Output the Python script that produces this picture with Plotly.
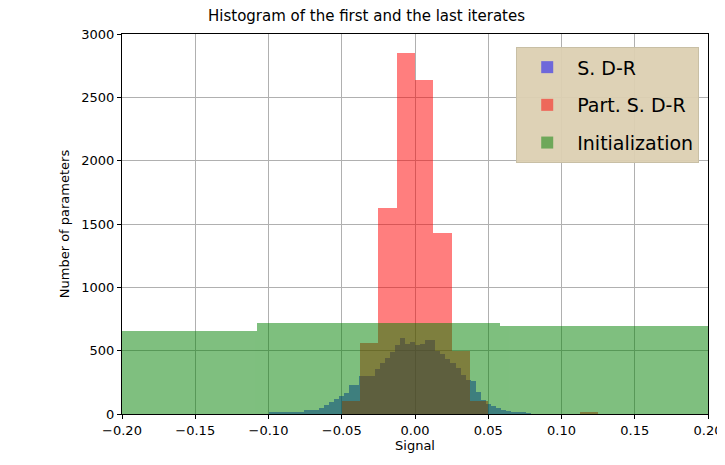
import numpy as np
import plotly.graph_objects as go

# S. D-R: fine bins
blue_start = -0.1
blue_width = 0.00345
blue_counts = [10, 10, 12, 12, 13, 13, 15, 30, 32, 32, 50, 68, 95, 122, 140, 162,
               230, 230, 298, 298, 298, 352, 406, 446, 487, 541, 600, 555, 568, 541,
               555, 581, 581, 500, 473, 433, 406, 365, 311, 270, 257, 176, 108, 81,
               60, 45, 35, 25, 18, 12, 8, 5]

# Part. S. D-R
red_edges = [-0.05, -0.0375, -0.025, -0.0125, 0.0, 0.0125, 0.025, 0.0375, 0.05]
red_counts = [100, 558, 1628, 2847, 2636, 1428, 495, 100]
red_extra_edges = [0.1125, 0.125]
red_extra_counts = [10]

# Initialization
green_edges = [-0.274, -0.108, 0.058, 0.224]
green_counts = [658, 716, 697]


def bars(edges, counts, color, name, group, show=True):
    e = np.asarray(edges, dtype=float)
    return go.Bar(x=(e[:-1] + e[1:]) / 2, y=counts, width=np.diff(e),
                  marker=dict(color=color, line=dict(width=0)), opacity=0.5,
                  name=name, showlegend=show, legendgroup=group)


blue_edges = blue_start + blue_width * np.arange(len(blue_counts) + 1)

fig = go.Figure()
fig.add_trace(bars(blue_edges, blue_counts, "#0000ff", "S. D-R", "a"))
fig.add_trace(bars(red_edges, red_counts, "#ff0000", "Part. S. D-R", "b"))
fig.add_trace(bars(red_extra_edges, red_extra_counts, "#ff0000", "", "b", show=False))
fig.add_trace(bars(green_edges, green_counts, "#008000", "Initialization", "c"))

axis = dict(showgrid=True, gridcolor="#b0b0b0", gridwidth=1, showline=True,
            linecolor="black", mirror=True, ticks="outside", ticklen=4,
            tickcolor="black", zeroline=False, tickfont=dict(size=13),
            automargin=False)

fig.update_layout(
    width=717, height=457,
    margin=dict(l=114, r=17, t=26, b=51, autoexpand=False),
    paper_bgcolor="white", plot_bgcolor="white",
    font=dict(family="DejaVu Sans", color="black"),
    title=dict(text="Histogram of the first and the last iterates",
               x=0.5, xanchor="center", y=0.995, yanchor="top", font=dict(size=15)),
    barmode="overlay", bargap=0,
    legend=dict(x=0.985, y=0.965, xanchor="right", yanchor="top",
                bgcolor="rgba(220,208,178,0.95)", bordercolor="#c8bfa5", borderwidth=1,
                font=dict(size=19), itemwidth=50, traceorder="grouped",
                tracegroupgap=10),
)
fig.update_xaxes(axis, range=[-0.2, 0.2], dtick=0.05, tickformat=".2f",
                 title=dict(text="Signal", font=dict(size=13), standoff=2))
fig.update_yaxes(axis, range=[0, 3000], dtick=500,
                 title=dict(text="Number of parameters", font=dict(size=13), standoff=8))

fig.write_html("out.html")
